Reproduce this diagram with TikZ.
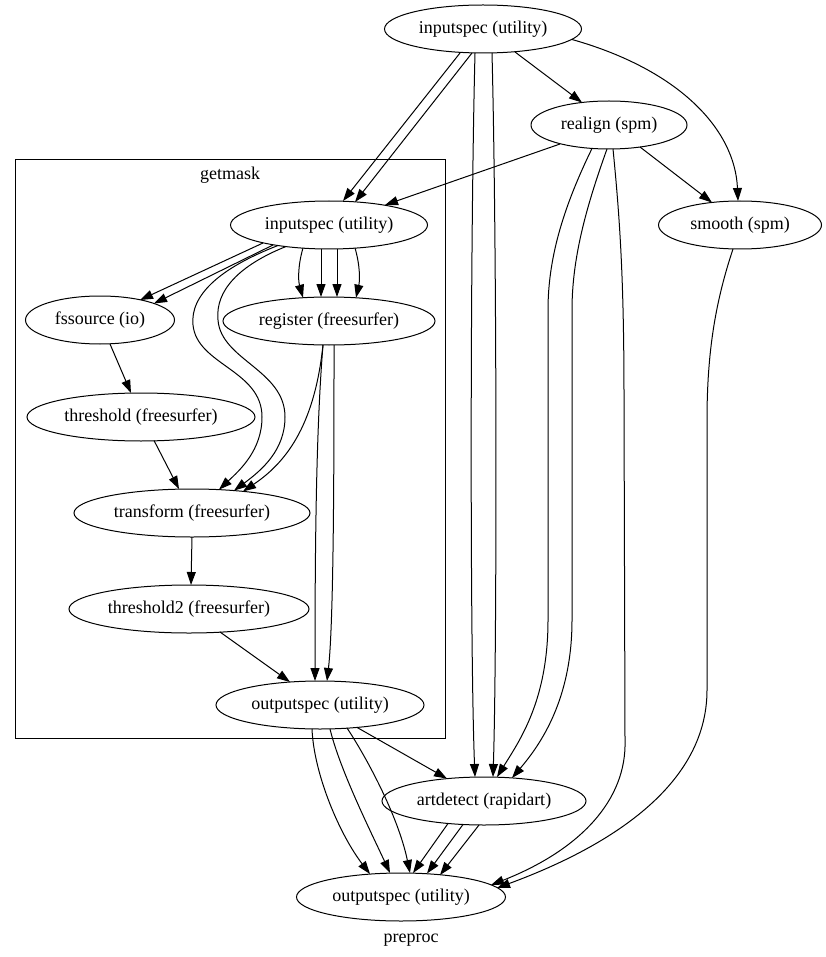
\documentclass[tikz,border=0pt]{standalone}
\usepackage{fontspec}
\setmainfont{Liberation Serif}
\usetikzlibrary{shapes.geometric,arrows.meta}
\begin{document}
\begin{tikzpicture}[x=1pt,y=-1pt,
  txt/.style={font=\fontsize{18}{20}\selectfont, inner sep=0pt},
  nd/.style={txt, draw, ellipse, line width=1pt, minimum height=48pt, outer sep=0pt},
  arr/.style={line width=1pt, -{Triangle[length=13pt,width=9pt]}}]
\useasboundingbox (0,0) rectangle (826,957);
% nodes
\node[nd, minimum width=197pt] (in1) at (483,29) {inputspec (utility)};
\node[nd, minimum width=156pt] (realign) at (609,125) {realign (spm)};
\node[nd, minimum width=163pt] (smooth) at (740,225) {smooth (spm)};
\node[draw, line width=1pt, minimum width=430pt, minimum height=578pt, inner sep=0pt] (cluster) at (230,449) {};
\node[txt] (gmlabel) at (230,175) {getmask};
\node[nd, minimum width=197pt] (in2) at (329,225) {inputspec (utility)};
\node[nd, minimum width=149pt] (fss) at (100,320) {fssource (io)};
\node[nd, minimum width=212pt] (reg) at (329,321) {register (freesurfer)};
\node[nd, minimum width=228pt] (thr) at (141,417) {threshold (freesurfer)};
\node[nd, minimum width=236pt] (tra) at (192,513) {transform (freesurfer)};
\node[nd, minimum width=240pt] (thr2) at (189,609) {threshold2 (freesurfer)};
\node[nd, minimum width=208pt] (out1) at (320,705) {outputspec (utility)};
\node[nd, minimum width=204pt] (art) at (484,801) {artdetect (rapidart)};
\node[nd, minimum width=209pt] (out2) at (401,897) {outputspec (utility)};
\node[txt] (preproc) at (411,940) {preproc};
% in1 edges
\draw[arr] ([shift={(-23,24)}]in1.center) -- ([shift={(14,-24)}]in2.center);
\draw[arr] ([shift={(-11,24)}]in1.center) -- ([shift={(26,-23)}]in2.center);
\draw[arr] ([shift={(-8,24)}]in1.center) .. controls (470,250) and (470,650) .. ([shift={(-9,-24)}]art.center);
\draw[arr] ([shift={(9,24)}]in1.center) .. controls (497,250) and (497,650) .. ([shift={(9,-24)}]art.center);
\draw[arr] ([shift={(32,23)}]in1.center) -- ([shift={(-27,-22.5)}]realign.center);
\draw[arr] ([shift={(89,10.5)}]in1.center) .. controls (680,70) and (735,130) .. ([shift={(-2,-24)}]smooth.center);
% realign edges
\draw[arr] ([shift={(-49,19)}]realign.center) -- ([shift={(56,-20)}]in2.center);
\draw[arr] ([shift={(31,22)}]realign.center) -- ([shift={(-28,-22.5)}]smooth.center);
\draw[arr] ([shift={(-17,23.5)}]realign.center) .. controls (562,210) and (548,260) .. (548,310) -- (548,620) .. controls (548,700) and (520,740) .. ([shift={(13,-24)}]art.center);
\draw[arr] ([shift={(-2,24)}]realign.center) .. controls (585,210) and (572,260) .. (572,310) -- (572,620) .. controls (572,700) and (540,745) .. ([shift={(28,-23)}]art.center);
\draw[arr] ([shift={(4,24)}]realign.center) .. controls (620,220) and (624,280) .. (624,400) -- (625,740) .. controls (627,800) and (580,850) .. ([shift={(90,-12)}]out2.center);
% smooth edge
\draw[arr] ([shift={(-7,24)}]smooth.center) .. controls (716,300) and (707,350) .. (707,420) -- (707,690) .. controls (707,790) and (600,850) .. ([shift={(96,-9)}]out2.center);
% in2 edges
\draw[arr] ([shift={(-66,18)}]in2.center) -- ([shift={(40,-20)}]fss.center);
\draw[arr] ([shift={(-56,20)}]in2.center) -- ([shift={(54,-16.5)}]fss.center);
\draw[arr] ([shift={(-51,20.5)}]in2.center) .. controls (220,268) and (190,295) .. (193,325) .. controls (197,365) and (262,370) .. (262,417) .. controls (262,450) and (240,470) .. ([shift={(27,-23.4)}]tra.center);
\draw[arr] ([shift={(-43,21.5)}]in2.center) .. controls (240,265) and (215,290) .. (218,320) .. controls (221,360) and (285,370) .. (285,417) .. controls (285,450) and (262,470) .. ([shift={(42,-22.4)}]tra.center);
\draw[arr] ([shift={(-26,23)}]in2.center) .. controls (298,265) and (298,280) .. ([shift={(-26,-23.3)}]reg.center);
\draw[arr] ([shift={(-8,24)}]in2.center) -- ([shift={(-8,-24)}]reg.center);
\draw[arr] ([shift={(8,24)}]in2.center) -- ([shift={(8,-24)}]reg.center);
\draw[arr] ([shift={(26,23)}]in2.center) .. controls (360,265) and (360,280) .. ([shift={(27,-23.3)}]reg.center);
% register edges
\draw[arr] ([shift={(-6,24)}]reg.center) .. controls (315,420) and (290,460) .. ([shift={(51,-21.6)}]tra.center);
\draw[arr] ([shift={(-6,24)}]reg.center) .. controls (316,430) and (315,550) .. ([shift={(-5,-24)}]out1.center);
\draw[arr] ([shift={(5,24)}]reg.center) .. controls (334,450) and (334,620) .. ([shift={(7,-24)}]out1.center);
% chain
\draw[arr] ([shift={(10,24)}]fss.center) -- ([shift={(-10,-24)}]thr.center);
\draw[arr] ([shift={(13,23.5)}]thr.center) -- ([shift={(-13,-24)}]tra.center);
\draw[arr] ([shift={(0,24)}]tra.center) -- ([shift={(2,-24)}]thr2.center);
\draw[arr] ([shift={(31,23)}]thr2.center) -- ([shift={(-30,-23)}]out1.center);
\draw[arr] ([shift={(37,22.4)}]out1.center) -- ([shift={(-37,-22.4)}]art.center);
% out1 -> out2
\draw[arr] ([shift={(-8,24)}]out1.center) .. controls (314,775) and (340,835) .. ([shift={(-31,-23)}]out2.center);
\draw[arr] ([shift={(10,24)}]out1.center) .. controls (340,770) and (370,830) .. ([shift={(-11,-24)}]out2.center);
\draw[arr] ([shift={(27,23)}]out1.center) .. controls (365,755) and (398,815) .. ([shift={(9,-24)}]out2.center);
% art -> out2
\draw[arr] ([shift={(-36,22.5)}]art.center) -- ([shift={(12,-24)}]out2.center);
\draw[arr] ([shift={(-21,23.5)}]art.center) -- ([shift={(26,-23.5)}]out2.center);
\draw[arr] ([shift={(-5,24)}]art.center) -- ([shift={(39,-22)}]out2.center);
\end{tikzpicture}
\end{document}
